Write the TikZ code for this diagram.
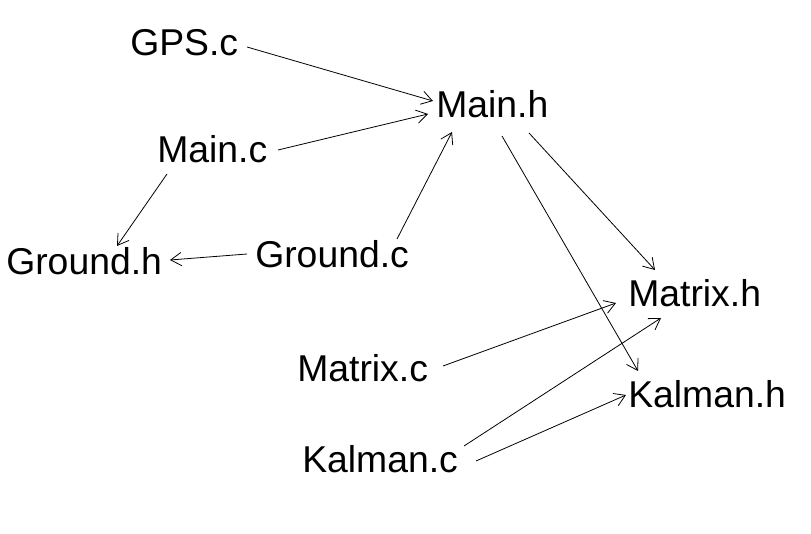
\documentclass[tikz,border=0pt]{standalone}
\usepackage{fontspec}
\setmainfont{Liberation Sans}
\usetikzlibrary{arrows.meta,calc}
\tikzset{
  lbl/.style={anchor=base west, inner sep=0pt, font=\fontsize{28}{33}\selectfont},
  arr/.style={-{Straight Barb[length=8pt,width=10pt]}, line width=0.6pt}
}
\begin{document}
\begin{tikzpicture}[x=0.75pt,y=-0.75pt]
\useasboundingbox[fill=white] (0,0) rectangle (811,534);
\node[lbl] (gps) at (130,56) {GPS.c};
\node[lbl] (mainh) at (436,118) {Main.h};
\node[lbl] (mainc) at (157,163) {Main.c};
\node[lbl] (groundh) at (6,275) {Ground.h};
\node[lbl] (groundc) at (255,268) {Ground.c};
\node[lbl] (matrixh) at (628,307) {Matrix.h};
\node[lbl] (matrixc) at (297,382) {Matrix.c};
\node[lbl] (kalmanh) at (628,408) {Kalman.h};
\node[lbl] (kalmanc) at (302,473) {Kalman.c};
\draw[arr] ($(gps.base west)+(117,-9)$) -- ($(mainh.base west)+(-3,-17)$);
\draw[arr] ($(mainc.base west)+(121,-13)$) -- ($(mainh.base west)+(-8,-4)$);
\draw[arr] ($(groundc.base west)+(142,-29)$) -- ($(mainh.base west)+(16,14)$);
\draw[arr] ($(mainc.base west)+(10,11)$) -- ($(groundh.base west)+(111,-29)$);
\draw[arr] ($(groundc.base west)+(-8,-14)$) -- ($(groundh.base west)+(164,-15)$);
\draw[arr] ($(mainh.base west)+(93,15)$) -- ($(matrixh.base west)+(27,-37)$);
\draw[arr] ($(mainh.base west)+(66,18)$) -- ($(kalmanh.base west)+(10,-37)$);
\draw[arr] ($(matrixc.base west)+(146,-16)$) -- ($(matrixh.base west)+(-12,-4)$);
\draw[arr] ($(kalmanc.base west)+(162,-27)$) -- ($(matrixh.base west)+(33,11)$);
\draw[arr] ($(kalmanc.base west)+(174,-12)$) -- ($(kalmanh.base west)+(-2,-13)$);
\end{tikzpicture}
\end{document}
